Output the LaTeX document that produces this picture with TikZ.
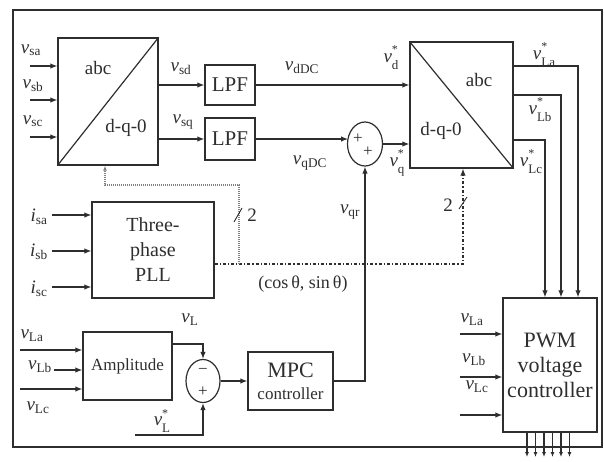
\documentclass[tikz,border=0pt]{standalone}
\usepackage{fontspec}
\setmainfont{Liberation Serif}
\usetikzlibrary{arrows.meta,shapes.geometric,calc}
\definecolor{ink}{gray}{0.18}
\newcommand\sv[1]{\textit{v}\textsubscript{#1}}
\newcommand\svs[1]{\textit{v}\rlap{\raisebox{0.47em}{\fontsize{12}{12}\selectfont *}}\raisebox{-0.36em}{\fontsize{13}{13}\selectfont #1}}
\newcommand\si[1]{\textit{i}\textsubscript{#1}}
\begin{document}
\begin{tikzpicture}[x=1pt,y=-1pt, line width=1.2pt, color=ink,
  font=\fontsize{19}{22}\selectfont,
  blk/.style={draw, line width=1.3pt, inner sep=0pt},
  arr/.style={-{Latex[length=7pt,width=5.5pt]}},
  arrs/.style={-{Latex[length=5pt,width=4pt]}},
  lab/.style={inner sep=0pt},
  sumj/.style={draw, ellipse, line width=1.2pt, inner sep=0pt, minimum width=35pt, minimum height=44pt},
  sgn/.style={inner sep=0pt, font=\fontsize{17}{17}\selectfont}]
\useasboundingbox (0,0) rectangle (604,461);
\draw[line width=1.7pt] (13,10) rectangle (602,447);

% abc -> dq0
\node[blk, minimum width=100pt, minimum height=127pt] (b1) at (108,101.5) {};
\draw (b1.south west) -- (b1.north east);
\node[lab] (b1t) at (98,68) {abc};
\node[lab] (b1b) at (126,128) {d-q-0};
\foreach \n/\y in {sa/66, sb/100, sc/137} {
  \coordinate (in\n) at (30,\y);
  \draw[arr] (in\n) -- (in\n -| b1.west);
}
\node[lab] (Lsa) at (31,50) {\sv{sa}};
\node[lab] (Lsb) at (33,86) {\sv{sb}};
\node[lab] (Lsc) at (33,121) {\sv{sc}};

% LPFs
\node[blk, minimum width=50pt, minimum height=40pt, font=\fontsize{21}{24}\selectfont] (l1) at (230,85) {LPF};
\node[blk, minimum width=50pt, minimum height=42pt, font=\fontsize{21}{24}\selectfont] (l2) at (230,139) {LPF};
\draw[arr] (b1.east |- l1.west) -- (l1.west);
\draw[arr] (b1.east |- l2.west) -- (l2.west);
\node[lab] (Lsd) at (181,69) {\sv{sd}};
\node[lab] (Lsq) at (183,122) {\sv{sq}};

% dq0 -> abc
\node[blk, minimum width=103pt, minimum height=126pt] (b2) at (461.5,105) {};
\draw (b2.north west) -- (b2.south east);
\node[lab] (b2t) at (479,80) {abc};
\node[lab] (b2b) at (441,131) {d-q-0};
\draw[arr] (l1.east) -- (l1.east -| b2.west);
\node[lab] (LdDC) at (302,68) {\sv{dDC}};
\node[lab] (Ldr) at (391,58) {\svs{d}};

% sum junction q
\node[sumj] (s1) at (365,144) {};
\node[sgn] (s1a) at (358,139) {+};
\node[sgn] (s1b) at (368,152) {+};
\coordinate (s1in) at (348,139);
\draw[arr] (l2.east) -- (s1in);
\draw[arr] (s1.east) -- (s1.east -| b2.west);
\node[lab] (LqDC) at (310,163) {\sv{qDC}};
\node[lab] (Lqr) at (397,163) {\svs{q}};

% PLL
\node[blk, minimum width=122pt, minimum height=96pt, align=center, font=\fontsize{20}{25}\selectfont] (pll) at (153,250) {Three-\\phase\\PLL};
\foreach \n/\y in {sa/215, sb/251, sc/287} {
  \coordinate (ii\n) at (52,\y);
  \draw[arr] (ii\n) -- (ii\n -| pll.west);
}
\node[lab] (Lia) at (39,217) {\si{sa}};
\node[lab] (Lib) at (39,252) {\si{sb}};
\node[lab] (Lic) at (39,289) {\si{sc}};

% theta lines
\coordinate (c2) at (463,264);
\draw[dashdotted, arr] (pll.east |- c2) -- (c2) -- (c2 |- b2.south);
\coordinate (d1) at (239,264);
\coordinate (d2) at (239,185);
\coordinate (d3) at (105,185);
\draw[gray, line width=1.5pt, dash pattern=on 1pt off 1pt, arrs] (d1) -- (d2) -- (d3) -- (d3 |- b1.south);
\draw[line width=0.9pt] (234,222) -- (242,208);
\node[lab] (two1) at (252,215) {2};
\draw[line width=0.9pt] (459,209) -- (467,197);
\node[lab] (two2) at (448,205) {2};
\node[lab, font=\fontsize{18}{20}\selectfont] (cs) at (303,284) {(cos\,θ, sin\,θ)};

% amplitude
\node[blk, minimum width=89pt, minimum height=68pt, font=\fontsize{17}{20}\selectfont] (amp) at (127.5,366) {Amplitude};
\coordinate (va) at (20,350);
\coordinate (vb) at (54,370);
\coordinate (vc) at (20,389);
\draw[arr] (va) -- (va -| amp.west);
\draw[arr] (vb) -- (vb -| amp.west);
\draw[arr] (vc) -- (vc -| amp.west);
\node[lab] (Lva) at (32,336) {\sv{La}};
\node[lab] (Lvb) at (40,367) {\sv{Lb}};
\node[lab] (Lvc) at (38,408) {\sv{Lc}};

\node[sumj, minimum width=34pt, minimum height=43pt] (s2) at (203,381) {};
\node[sgn] (s2a) at (203,371) {−};
\node[sgn] (s2b) at (203,392) {+};
\coordinate (ampo) at (172,344);
\draw[arr] (ampo) -| (s2.north);
\node[lab] (LvL) at (190,320) {\sv{L}};
\coordinate (vlr) at (135,435);
\draw[arr] (vlr) -| (s2.south);
\node[lab] (LvLr) at (162,421) {\svs{L}};

% MPC
\node[blk, minimum width=85pt, minimum height=58pt, align=center, font=\fontsize{17}{22}\selectfont] (mpc) at (290.5,381) {{\fontsize{22}{22}\selectfont MPC}\\controller};
\draw[arr] (s2.east) -- (mpc.west);
\draw[arr] (mpc.east) -| (s1.south);
\node[lab] (Lqr2) at (350,212) {\sv{qr}};

% PWM
\node[blk, minimum width=94pt, minimum height=134pt, align=center, font=\fontsize{22}{25}\selectfont] (pwm) at (550,365) {PWM\\voltage\\controller};
\foreach \n/\y in {a/334, b/377, c/415} {
  \coordinate (pw\n) at (460,\y);
  \draw[arr] (pw\n) -- (pw\n -| pwm.west);
}
\node[lab] (Lpa) at (472,320) {\sv{La}};
\node[lab] (Lpb) at (474,360) {\sv{Lb}};
\node[lab] (Lpc) at (477,387) {\sv{Lc}};

\coordinate (oa) at (578,66);
\coordinate (ob) at (561,95);
\coordinate (oc) at (545,140);
\draw[arr] (b2.east |- oa) -- (oa) -- (oa |- pwm.north);
\draw[arr] (b2.east |- ob) -- (ob) -- (ob |- pwm.north);
\draw[arr] (b2.east |- oc) -- (oc) -- (oc |- pwm.north);
\node[lab] (Loa) at (544,55) {\svs{La}};
\node[lab] (Lob) at (540,110) {\svs{Lb}};
\node[lab] (Loc) at (531,162) {\svs{Lc}};

\foreach \i in {0,...,5} {
  \coordinate (p\i) at ({527+8.5*\i},457);
  \draw[arrs] (p\i |- pwm.south) -- (p\i);
}
\end{tikzpicture}
\end{document}
